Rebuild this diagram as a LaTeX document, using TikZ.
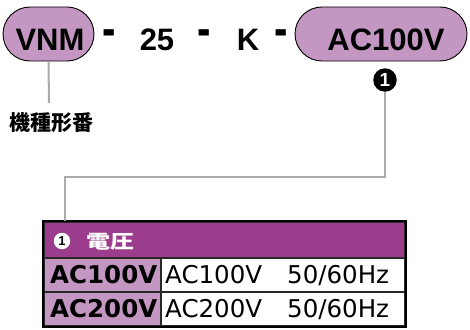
\documentclass[tikz,border=0pt]{standalone}
\usepackage{fontspec}
\setmainfont{Liberation Sans}
\newfontfamily\jpfont{Noto Sans CJK JP}
\newfontfamily\widefont{DejaVu Sans}
\usetikzlibrary{shapes.misc}
\definecolor{pillfill}{RGB}{196,151,194}
\definecolor{hdrfill}{RGB}{155,61,140}
\definecolor{conngray}{RGB}{170,170,170}
\definecolor{gridline}{RGB}{40,40,40}
\tikzset{
  pill/.style={rounded rectangle, draw=black, line width=0.9pt, fill=pillfill, inner sep=0pt, minimum height=54pt},
  codetxt/.style={anchor=base, inner sep=0pt, font=\fontsize{31}{31}\selectfont\bfseries},
  conn/.style={draw=conngray, line width=2pt},
  cell/.style={rectangle, draw=gridline, line width=1.2pt, inner sep=0pt, minimum height=34pt},
  celltxt/.style={anchor=base west, inner sep=0pt, font=\widefont\fontsize{24.5}{24.5}\selectfont},
}
\newcommand{\thickdash}{\scalebox{1.3}[1.7]{-}}
\begin{document}
\begin{tikzpicture}[x=1pt,y=-1pt]
\useasboundingbox (0,0) rectangle (470,329);
% pills
\node[pill, minimum width=91pt] (vnm) at (48.5,34) {};
\node[codetxt] (vnmtxt) at (50,50) {VNM};
\node[codetxt] (d1) at (109.5,46.5) {\thickdash};
\node[codetxt] (n25) at (157,50) {25};
\node[codetxt] (d2) at (204,46.5) {\thickdash};
\node[codetxt] (k) at (248,50) {K};
\node[codetxt] (d3) at (281,46.5) {\thickdash};
\node[pill, minimum width=172pt] (ac) at (381,34) {};
\node[codetxt] (actxt) at (386,50) {AC100V};
% label under VNM
\coordinate (vnmend) at (49,103);
\draw[conn] (vnm.south) -- (vnmend);
\node[anchor=base, inner sep=0pt, font=\jpfont\bfseries\fontsize{21}{21}\selectfont] (model) at (51.5,130) {機種形番};
% number marker
\node[circle, fill=black, inner sep=0pt, minimum size=23.5pt, text=white, font=\fontsize{19}{19}\selectfont\bfseries] (m1) at (385,80) {1};
% table
\node[rectangle, fill=hdrfill, draw=gridline, line width=1.2pt, minimum width=361pt, minimum height=36pt, inner sep=0pt] (hdr) at (224.5,240) {};
\node[cell, fill=pillfill, minimum width=117pt] (lab1) at (102.5,275) {};
\node[cell, fill=white, minimum width=244pt] (val1) at (283,275) {};
\node[cell, fill=pillfill, minimum width=117pt] (lab2) at (102.5,309) {};
\node[cell, fill=white, minimum width=244pt] (val2) at (283,309) {};
\draw[draw=black, line width=2pt] (hdr.north west) rectangle (val2.south east);
% connector from marker to table
\coordinate (bend) at (65,177);
\draw[conn] (m1.south) |- (bend) -- (bend |- hdr.north);
% header content
\node[circle, fill=white, inner sep=0pt, minimum size=16.5pt, text=black, font=\fontsize{13}{13}\selectfont\bfseries] (h1) at (62,241) {1};
\node[anchor=base west, inner sep=0pt, text=white, font=\jpfont\bfseries\fontsize{18.5}{18.5}\selectfont] (hdrtxt) at (86,248.5) {\scalebox{1.3}[1]{電圧}};
% rows
\node[celltxt, font=\widefont\bfseries\fontsize{24.5}{24.5}\selectfont] (l1) at (50,283) {AC100V};
\node[celltxt] (v1a) at (165,283) {AC100V};
\node[celltxt] (v1b) at (287,283) {50/60Hz};
\node[celltxt, font=\widefont\bfseries\fontsize{24.5}{24.5}\selectfont] (l2) at (50,317) {AC200V};
\node[celltxt] (v2a) at (165,317) {AC200V};
\node[celltxt] (v2b) at (287,317) {50/60Hz};
\end{tikzpicture}
\end{document}
